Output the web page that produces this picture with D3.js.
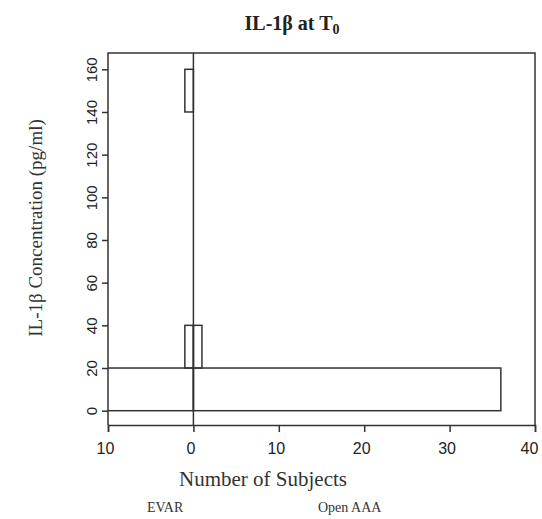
<!DOCTYPE html>
<html>
<head>
<meta charset="utf-8">
<script src="https://cdn.jsdelivr.net/npm/d3@7"></script>
<style>
  body { margin: 0; background: #fff; }
  svg { display: block; }
</style>
</head>
<body>
<svg id="chart" width="542" height="519"></svg>
<script>
// bins of IL-1β concentration (pg/ml), counts per group
const binStart = [0, 20, 140];
const binWidth = 20;
const evarCounts = [40, 1, 1];   // 0-20 bin runs off the left edge
const openCounts = [36, 1, 0];
const xTicks = [-10, 0, 10, 20, 30, 40];
const yTicks = [0, 20, 40, 60, 80, 100, 120, 140, 160];

const svg = d3.select("#chart");
const ink = "#333";

const x = d3.scaleLinear().domain([-10, 40]).range([108, 535]);
const y = d3.scaleLinear().domain([0, 160]).range([410.7, 69.3]);
const yTop = 167.6, yBot = -6.7;

// clip so bars stay inside the frame
svg.append("clipPath").attr("id", "plot")
  .append("rect")
  .attr("x", x(-10)).attr("y", y(yTop))
  .attr("width", x(40) - x(-10)).attr("height", y(yBot) - y(yTop));

const bars = svg.append("g").attr("clip-path", "url(#plot)");

binStart.forEach((b, i) => {
  if (evarCounts[i] > 0) {
    bars.append("rect")
      .attr("x", x(-evarCounts[i])).attr("y", y(b + binWidth))
      .attr("width", x(0) - x(-evarCounts[i]))
      .attr("height", y(b) - y(b + binWidth))
      .attr("fill", "none").attr("stroke", ink).attr("stroke-width", 1.5);
  }
  if (openCounts[i] > 0) {
    bars.append("rect")
      .attr("x", x(0)).attr("y", y(b + binWidth))
      .attr("width", x(openCounts[i]) - x(0))
      .attr("height", y(b) - y(b + binWidth))
      .attr("fill", "none").attr("stroke", ink).attr("stroke-width", 1.5);
  }
});

// frame: top, left, right
svg.append("path")
  .attr("d", `M${x(-10)},${y(yBot)}V${y(yTop)}H${x(40)}V${y(yBot)}`)
  .attr("fill", "none").attr("stroke", ink).attr("stroke-width", 1.5);

// zero line
svg.append("line")
  .attr("x1", x(0)).attr("x2", x(0))
  .attr("y1", y(yTop)).attr("y2", y(yBot))
  .attr("stroke", ink).attr("stroke-width", 1.5);

// x axis
const xAxis = svg.append("g")
  .attr("transform", `translate(0,${y(yBot)})`)
  .call(d3.axisBottom(x).tickValues(xTicks).tickSize(7).tickPadding(11)
    .tickFormat(d => Math.abs(d)));
xAxis.select(".domain").attr("stroke", ink).attr("stroke-width", 1.5);
xAxis.selectAll(".tick line").attr("stroke", ink).attr("stroke-width", 1.5);
xAxis.selectAll(".tick text")
  .attr("dx", d => d === 40 ? -6 : -3)
  .attr("font-family", "Liberation Sans, Arial, sans-serif")
  .attr("font-size", 16).attr("fill", "#222");

// y axis
const yAxis = svg.append("g")
  .attr("transform", `translate(${x(-10)},0)`)
  .call(d3.axisLeft(y).tickValues(yTicks).tickSize(6));
yAxis.select(".domain").remove();
yAxis.selectAll(".tick line").attr("stroke", ink).attr("stroke-width", 1.5);
yAxis.selectAll(".tick text")
  .attr("x", null).attr("dy", null)
  .attr("transform", "translate(-11,0) rotate(-90)")
  .attr("text-anchor", "middle")
  .attr("font-family", "Liberation Sans, Arial, sans-serif")
  .attr("font-size", 15).attr("fill", "#222");

// title
const title = svg.append("text")
  .attr("x", 292).attr("y", 30)
  .attr("text-anchor", "middle")
  .attr("font-family", "Liberation Serif, Times New Roman, serif")
  .attr("font-weight", "bold").attr("font-size", 20).attr("fill", "#222");
title.append("tspan").text("IL-1β at T");
title.append("tspan").attr("dy", 4).attr("font-size", 14).text("0");

// axis labels
svg.append("text")
  .attr("x", 263).attr("y", 486)
  .attr("text-anchor", "middle")
  .attr("font-family", "Liberation Serif, Times New Roman, serif")
  .attr("font-size", 21).attr("fill", "#333")
  .text("Number of Subjects");

svg.append("text")
  .attr("transform", "translate(42,228) rotate(-90)")
  .attr("text-anchor", "middle")
  .attr("font-family", "Liberation Serif, Times New Roman, serif")
  .attr("font-size", 19).attr("fill", "#333")
  .text("IL-1β Concentration (pg/ml)");

// group labels
const groups = [["EVAR", 147], ["Open AAA", 318]];
groups.forEach(([name, gx]) => {
  svg.append("text")
    .attr("x", gx).attr("y", 512)
    .attr("font-family", "Liberation Serif, Times New Roman, serif")
    .attr("font-size", 14).attr("fill", "#333")
    .text(name);
});
</script>
</body>
</html>
